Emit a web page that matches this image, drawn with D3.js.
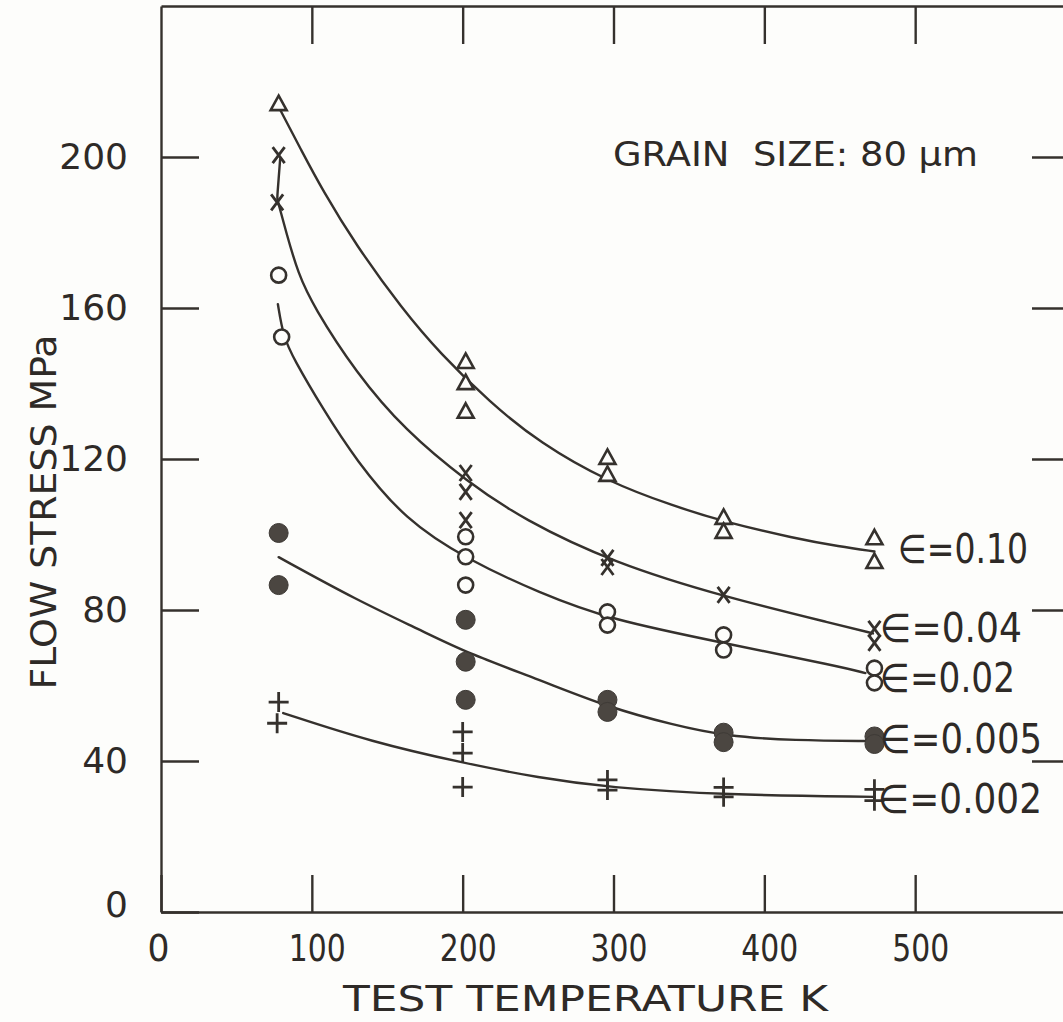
<!DOCTYPE html>
<html>
<head>
<meta charset="utf-8">
<script src="https://cdn.jsdelivr.net/npm/d3@7"></script>
<style>
  html, body { margin: 0; padding: 0; background: #fdfdfb; }
  svg { display: block; }
  text { font-family: "DejaVu Sans", "Liberation Sans", sans-serif; fill: #2e2a27; }
</style>
</head>
<body>
<svg id="chart" width="1063" height="1022"></svg>
<script>
// Flow stress against test temperature at several strains (grain size 80 µm)

const xTicks = [0, 100, 200, 300, 400, 500];
const yTicks = [0, 40, 80, 120, 160, 200];
const strainLabels = ["∈=0.10", "∈=0.04", "∈=0.02", "∈=0.005", "∈=0.002"];

// measured points: [temperature K, flow stress MPa]
const pointsE010 = [[78,214],[202,145.7],[202,140.1],[202,132.5],[296,120.3],[296,115.8],[373,104.4],[373,100.7],[473,99],[473,92.7]];
const pointsE004 = [[78,200.5],[77,188],[202,116.3],[202,111.3],[202,103.8],[296,93.8],[296,91.4],[373,84],[473,75],[473,71.3]];
const pointsE002 = [[78,168.7],[80,152.3],[202,99.4],[202,94.1],[202,86.6],[296,79.5],[296,76],[373,73.4],[373,69.4],[473,64.6],[473,60.7]];
const pointsE0005 = [[78,100.4],[78,86.6],[202,77.4],[202,66.3],[202,56.2],[296,56.2],[296,53],[373,47.5],[373,45],[473,46.5],[473,44.5]];
const pointsE0002 = [[78,55.6],[77,50],[200,47.7],[200,42.1],[200,33.1],[296,35],[296,32.3],[373,33],[373,30.5],[473,32.5],[473,29.5]];

// smooth curves drawn through each strain level
const fitE010 = [[79,212.5],[93,201.8],[107,191.3],[129,176.8],[160,159.7],[185,148],[218,135],[251,124.3],[296,114],[340,107.5],[374,103.3],[420,99],[450,96.8],[473,95.5]];
const fitE004 = [[79,199.5],[77,189],[77,189],[83,180],[91,169],[101,160.5],[129,143],[162,127.5],[203,114],[240,104],[300,92.5],[374,83.4],[450,76],[472,73.8]];
const fitE002 = [[77.5,161],[81,152.5],[88,146.5],[107,133.5],[129,119.8],[162,103.8],[203,93.4],[251,84.5],[298,77.4],[374,71.2],[450,65],[467,63.3]];
const fitE0005 = [[78,94],[130,82.6],[172,74.7],[203,68.6],[251,61.5],[296,54.3],[340,49.5],[374,46.6],[420,45.4],[471,45.3]];
const fitE0002 = [[81,52.7],[140,45],[200,39.5],[251,35.5],[296,33],[374,31],[473,30.5]];

const series = [
  { marker: "triangle", points: pointsE010, fit: fitE010, label: strainLabels[0] },
  { marker: "cross",    points: pointsE004, fit: fitE004, label: strainLabels[1] },
  { marker: "circle",   points: pointsE002, fit: fitE002, label: strainLabels[2] },
  { marker: "dot",      points: pointsE0005, fit: fitE0005, label: strainLabels[3] },
  { marker: "plus",     points: pointsE0002, fit: fitE0002, label: strainLabels[4] }
];

const ink = "#35312d";
const paper = "#fdfdfb";

const svg = d3.select("#chart");
const x = d3.scaleLinear().domain([0, 600]).range([161, 1066]);
const y = d3.scaleLinear().domain([0, 240]).range([912, 6]);

// frame and axes
function styleAxis(g) {
  g.selectAll("path.domain").attr("stroke", ink).attr("stroke-width", 2.4);
  g.selectAll(".tick line").attr("stroke", ink).attr("stroke-width", 2.4);
}

const gBottom = svg.append("g").attr("transform", `translate(0,${y(0)})`)
  .call(d3.axisBottom(x).tickValues(xTicks).tickSizeInner(-37).tickSizeOuter(0).tickPadding(23));
styleAxis(gBottom);
gBottom.selectAll(".tick text")
  .attr("font-size", 37)
  .attr("font-family", "'DejaVu Sans', sans-serif")
  .attr("fill", "#2e2a27")
  .attr("x", d => d === 0 ? -3 : 5)
  .attr("textLength", d => String(d).length === 1 ? 22 : 57)
  .attr("lengthAdjust", "spacingAndGlyphs");

const gLeft = svg.append("g").attr("transform", `translate(${x(0)},0)`)
  .call(d3.axisLeft(y).tickValues(yTicks).tickSizeInner(-38).tickSizeOuter(0).tickPadding(33));
styleAxis(gLeft);
gLeft.selectAll(".tick text")
  .attr("font-size", 36)
  .attr("font-family", "'DejaVu Sans', sans-serif")
  .attr("fill", "#2e2a27");
gLeft.selectAll(".tick").filter(d => d === 0).select("text").attr("dy", "0.12em");

const gTop = svg.append("g").attr("transform", `translate(0,${y(240)})`)
  .call(d3.axisTop(x).tickValues(xTicks.slice(1)).tickSizeInner(-38).tickSizeOuter(0).tickFormat(""));
styleAxis(gTop);

const gRight = svg.append("g").attr("transform", `translate(${x(600)},0)`)
  .call(d3.axisRight(y).tickValues(yTicks.slice(1)).tickSizeInner(-34).tickSizeOuter(0).tickFormat(""));
styleAxis(gRight);

// axis titles
svg.append("text")
  .attr("transform", "translate(56,512) rotate(-90)")
  .attr("text-anchor", "middle")
  .attr("font-size", 36)
  .attr("textLength", 355)
  .attr("lengthAdjust", "spacingAndGlyphs")
  .text("FLOW STRESS MPa");

svg.append("text")
  .attr("x", 343).attr("y", 1011)
  .attr("font-size", 36)
  .attr("textLength", 485)
  .attr("lengthAdjust", "spacingAndGlyphs")
  .text("TEST TEMPERATURE K");

svg.append("text")
  .attr("x", 613).attr("y", 166)
  .attr("font-size", 33)
  .attr("textLength", 365)
  .attr("lengthAdjust", "spacingAndGlyphs")
  .style("white-space", "pre")
  .text("GRAIN  SIZE: 80 μm");

// fitted curves
const line = d3.line()
  .x(d => x(d[0]))
  .y(d => y(d[1]))
  .curve(d3.curveBasis);

svg.append("g").selectAll("path")
  .data(series)
  .join("path")
  .attr("d", s => line(s.fit))
  .attr("fill", "none")
  .attr("stroke", ink)
  .attr("stroke-width", 2.4)
  .attr("stroke-linecap", "round");

// markers
function drawMarker(g, type) {
  if (type === "triangle") {
    g.append("path").attr("d", "M0,-8.5 L8,6 L-8,6 Z")
      .attr("fill", paper).attr("stroke", ink).attr("stroke-width", 2.6).attr("stroke-linejoin", "miter");
  } else if (type === "cross") {
    g.append("path").attr("d", "M-6,-8 L6,8 M6,-8 L-6,8")
      .attr("fill", "none").attr("stroke", ink).attr("stroke-width", 2.8);
  } else if (type === "circle") {
    g.append("circle").attr("r", 7.5)
      .attr("fill", paper).attr("stroke", ink).attr("stroke-width", 2.6);
  } else if (type === "dot") {
    g.append("circle").attr("r", 9.5).attr("fill", "#4b4641").attr("stroke", "#3e3a36").attr("stroke-width", 1);
  } else if (type === "plus") {
    g.append("path").attr("d", "M-10,0 L10,0 M0,-10 L0,10")
      .attr("fill", "none").attr("stroke", ink).attr("stroke-width", 2.8);
  }
}

series.forEach(s => {
  const g = svg.append("g");
  s.points.forEach(p => {
    const m = g.append("g").attr("transform", `translate(${x(p[0])},${y(p[1])})`);
    drawMarker(m, s.marker);
  });
});

// strain labels beside the curve ends
const labelPlacement = [
  { x: 898, y: 563, len: 130 },
  { x: 880, y: 642, len: 142 },
  { x: 880, y: 692, len: 135 },
  { x: 880, y: 753, len: 162 },
  { x: 878, y: 813, len: 164 }
];
svg.append("g").selectAll("text")
  .data(series)
  .join("text")
  .attr("x", (s, i) => labelPlacement[i].x)
  .attr("y", (s, i) => labelPlacement[i].y)
  .attr("font-size", 40)
  .attr("textLength", (s, i) => labelPlacement[i].len)
  .attr("lengthAdjust", "spacingAndGlyphs")
  .text(s => s.label);
</script>
</body>
</html>
